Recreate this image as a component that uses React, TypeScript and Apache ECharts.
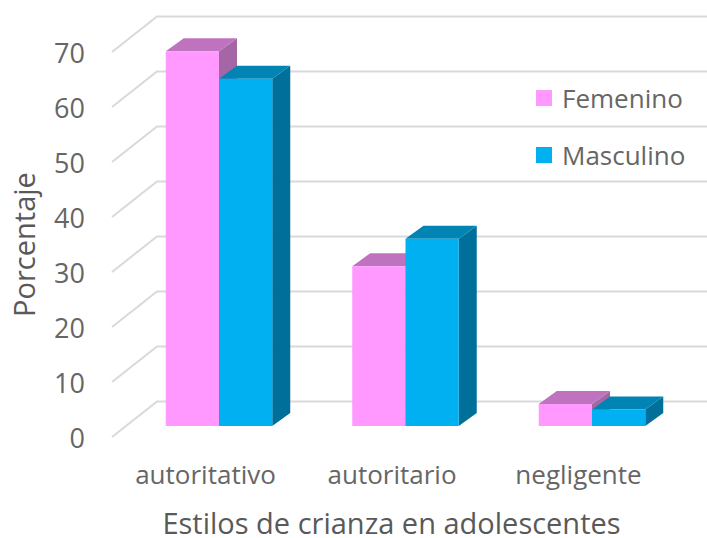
import React, { useEffect, useRef } from "react";
import * as echarts from "echarts";

const categories = ["autoritativo", "autoritario", "negligente"];
const femenino = [68, 29, 4];
const masculino = [63, 34, 3];
const yTicks = [0, 10, 20, 30, 40, 50, 60, 70];
const FONT = "Open Sans";

function shade(front: string, top: string, side: string, dir: number) {
  return (params: any, api: any) => {
    const cat = api.value(0);
    const val = api.value(1);
    const base = api.coord([cat, 0]);
    const head = api.coord([cat, val]);
    const w = api.size([1, 0])[0] * 0.2855;
    const x0 = dir < 0 ? base[0] - w : base[0];
    const x1 = x0 + w;
    const dx = 18;
    const dy = 13;
    const yT = head[1];
    const yB = base[1];
    return {
      type: "group",
      children: [
        { type: "polygon", shape: { points: [[x1, yT], [x1 + dx, yT - dy], [x1 + dx, yB - dy], [x1, yB]] }, style: { fill: side } },
        { type: "polygon", shape: { points: [[x0, yT], [x0 + dx, yT - dy], [x1 + dx, yT - dy], [x1, yT]] }, style: { fill: top } },
        { type: "rect", shape: { x: x0, y: yT, width: w, height: yB - yT }, style: { fill: front } },
      ],
    };
  };
}

function wallLine(params: any, api: any) {
  const cs = params.coordSys;
  const y = api.coord([0, api.value(0)])[1];
  return {
    type: "polyline",
    shape: { points: [[cs.x, y], [cs.x + 45, y - 35.5], [cs.x + cs.width, y - 35.5]] },
    style: { fill: "none", stroke: "#D9D9D9", lineWidth: 2 },
  };
}

export default function App() {
  const ref = useRef<HTMLDivElement>(null);
  useEffect(() => {
    const chart = echarts.init(ref.current!, null, { renderer: "svg" });
    chart.setOption({
      animation: false,
      backgroundColor: "#ffffff",
      textStyle: { fontFamily: FONT },
      legend: {
        data: [
          { name: "Femenino", icon: "rect", itemStyle: { color: "#FF99FF" } },
          { name: "Masculino", icon: "rect", itemStyle: { color: "#00B0F0" } },
        ],
        orient: "vertical",
        left: 531,
        top: 80,
        itemWidth: 16,
        itemHeight: 16,
        itemGap: 31,
        selectedMode: false,
        textStyle: { fontFamily: FONT, fontSize: 26, color: "#666666", padding: [0, 0, 0, 5] },
      },
      grid: [
        { left: 125.75, width: 559.5, top: 40.3, height: 385.7, outerBoundsMode: "none" },
        { left: 112, width: 595, top: 52, height: 385, outerBoundsMode: "none" },
      ],
      xAxis: [
        {
          gridIndex: 0,
          type: "category",
          data: categories,
          axisLine: { show: false },
          axisTick: { show: false },
          axisLabel: { fontFamily: FONT, fontSize: 26, color: "#666666", margin: 35, padding: [0, 27, 0, 0] },
          name: "Estilos de crianza en adolescentes",
          nameLocation: "middle",
          nameGap: 82,
          nameTextStyle: { fontFamily: FONT, fontSize: 29, color: "#595959", padding: [0, 28, 0, 0] },
        },
        { gridIndex: 1, type: "value", min: 0, max: 1, show: false },
      ],
      yAxis: [
        { gridIndex: 0, type: "value", min: 0, max: 70, show: false },
        {
          gridIndex: 1,
          type: "value",
          min: 0,
          max: 70,
          interval: 10,
          splitLine: { show: false },
          axisLine: { show: false },
          axisTick: { show: false },
          axisLabel: { fontFamily: FONT, fontSize: 27, color: "#666666", margin: 27 },
          name: "Porcentaje",
          nameLocation: "middle",
          nameGap: 74,
          nameTextStyle: { fontFamily: FONT, fontSize: 29, color: "#595959" },
        },
      ],
      series: [
        {
          name: "paredes",
          type: "custom",
          xAxisIndex: 1,
          yAxisIndex: 1,
          data: yTicks.map((t) => [t]),
          renderItem: wallLine,
          clip: false,
          silent: true,
          z: 1,
        },
        {
          name: "Femenino",
          type: "custom",
          xAxisIndex: 0,
          yAxisIndex: 0,
          data: femenino.map((v, i) => [i, v]),
          encode: { x: 0, y: 1 },
          renderItem: shade("#FF99FF", "#BF73BF", "#A566A5", -1),
          itemStyle: { color: "#FF99FF" },
          clip: false,
          z: 2,
        },
        {
          name: "Masculino",
          type: "custom",
          xAxisIndex: 0,
          yAxisIndex: 0,
          data: masculino.map((v, i) => [i, v]),
          encode: { x: 0, y: 1 },
          renderItem: shade("#00B0F0", "#0084B4", "#006F99", 1),
          itemStyle: { color: "#00B0F0" },
          clip: false,
          z: 3,
        },
      ],
    });
    return () => chart.dispose();
  }, []);
  return <div ref={ref} style={{ position: "absolute", left: 0, top: 0, width: 707, height: 538 }} />;
}
